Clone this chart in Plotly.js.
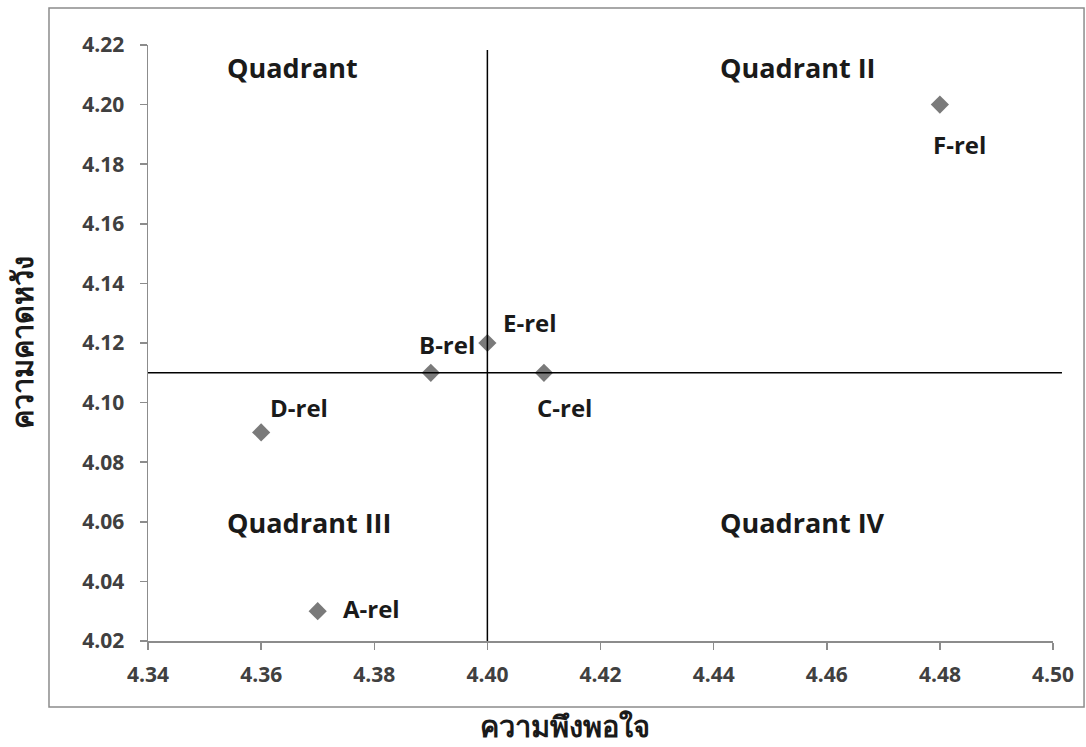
<!DOCTYPE html>
<html>
<head>
<meta charset="utf-8">
<script src="https://cdn.plot.ly/plotly-3.0.1.min.js"></script>
<style>html,body{margin:0;padding:0;background:#fff;}#chart{width:1086px;height:747px;}</style>
</head>
<body>
<div id="chart"></div>
<script>
// Data
const labels = ['A-rel', 'B-rel', 'C-rel', 'D-rel', 'E-rel', 'F-rel'];
const satisfaction = [4.37, 4.39, 4.41, 4.36, 4.40, 4.48];   // x: ความพึงพอใจ
const expectation  = [4.03, 4.11, 4.11, 4.09, 4.12, 4.20];   // y: ความคาดหวัง
const xMean = 4.40;
const yMean = 4.11;
const xTitle = 'ความพึงพอใจ';
const yTitle = 'ความคาดหวัง';
const quadrantNames = ['Quadrant', 'Quadrant II', 'Quadrant III', 'Quadrant IV'];
const xTicks = [4.34, 4.36, 4.38, 4.40, 4.42, 4.44, 4.46, 4.48, 4.50];
const yTicks = [4.02, 4.04, 4.06, 4.08, 4.10, 4.12, 4.14, 4.16, 4.18, 4.20, 4.22];

// label pixel offsets (style)
const labelShift = {
  'A-rel': [54, 3], 'B-rel': [16, 28], 'C-rel': [21, -35],
  'D-rel': [38, 25], 'E-rel': [43, 21], 'F-rel': [20, -40]
};

const FONT = '"Open Sans", "Noto Sans", "DejaVu Sans", sans-serif';
const tickFont = {family: FONT, size: 21, color: '#404040', weight: 'bold'};
const labelFont = {family: FONT, size: 24, color: '#1a1a1a', weight: 'bold'};
const quadFont = {family: FONT, size: 27, color: '#1a1a1a', weight: 'bold'};
const titleFont = {family: FONT, size: 29, color: '#1a1a1a', weight: 'bold'};
const xTitleFont = {family: FONT, size: 29, color: '#1a1a1a', weight: 'bold'};

const trace = {
  type: 'scatter', mode: 'markers',
  x: satisfaction, y: expectation, text: labels,
  marker: {symbol: 'diamond', size: 14, color: '#7a7a7a'},
  hoverinfo: 'x+y+text'
};

const annotations = labels.map((l, i) => ({
  x: satisfaction[i], y: expectation[i], xref: 'x', yref: 'y',
  text: l, showarrow: false, font: labelFont,
  xshift: labelShift[l][0], yshift: labelShift[l][1]
}));

const quadPos = [[0.085, 0.963], [0.630, 0.963], [0.085, 0.198], [0.630, 0.198]];
quadrantNames.forEach((q, i) => {
  annotations.push({
    x: quadPos[i][0], y: quadPos[i][1], xref: 'paper', yref: 'paper',
    xanchor: 'left', yanchor: 'middle', text: q, showarrow: false, font: quadFont
  });
});

// x-axis title, centred under the whole chart frame
annotations.push({
  x: 0.4608, y: -0.1426, xref: 'paper', yref: 'paper', borderpad: 0,
  xanchor: 'center', yanchor: 'middle', text: xTitle, showarrow: false, font: xTitleFont
});

const layout = {
  width: 1086, height: 747,
  margin: {l: 148, r: 33, t: 45, b: 106},
  paper_bgcolor: '#ffffff', plot_bgcolor: '#ffffff',
  showlegend: false,
  xaxis: {
    range: [4.34, 4.50], tickvals: xTicks, ticktext: xTicks.map(v => v.toFixed(2)),
    showgrid: false, zeroline: false, showline: true, linecolor: '#8c8c8c', linewidth: 1.5,
    ticks: 'outside', ticklen: 7, tickcolor: '#8c8c8c', tickwidth: 1.5,
    tickfont: tickFont, ticklabelstandoff: 7
  },
  yaxis: {
    range: [4.02, 4.22], tickvals: yTicks, ticktext: yTicks.map(v => v.toFixed(2)),
    showgrid: false, zeroline: false, showline: true, linecolor: '#8c8c8c', linewidth: 1.5,
    ticks: 'outside', ticklen: 7, tickcolor: '#8c8c8c', tickwidth: 1.5,
    tickfont: tickFont, ticklabelstandoff: 11,
    title: {text: yTitle, font: titleFont, standoff: 40}
  },
  shapes: [
    // outer chart frame
    {type: 'rect', xref: 'paper', yref: 'paper', x0: -0.1094, x1: 1.0343, y0: -0.1107, y1: 1.0621,
     line: {color: '#8c8c8c', width: 1.5}, fillcolor: 'rgba(0,0,0,0)'},
    // mean lines
    {type: 'line', xref: 'paper', yref: 'y', x0: 0, x1: 1.0099, y0: yMean, y1: yMean,
     line: {color: '#000000', width: 1.5}},
    {type: 'line', xref: 'x', yref: 'paper', x0: xMean, x1: xMean, y0: 0, y1: 0.9916,
     line: {color: '#000000', width: 1.5}}
  ],
  annotations: annotations
};

Plotly.newPlot('chart', [trace], layout, {displayModeBar: false, staticPlot: true});
</script>
</body>
</html>
